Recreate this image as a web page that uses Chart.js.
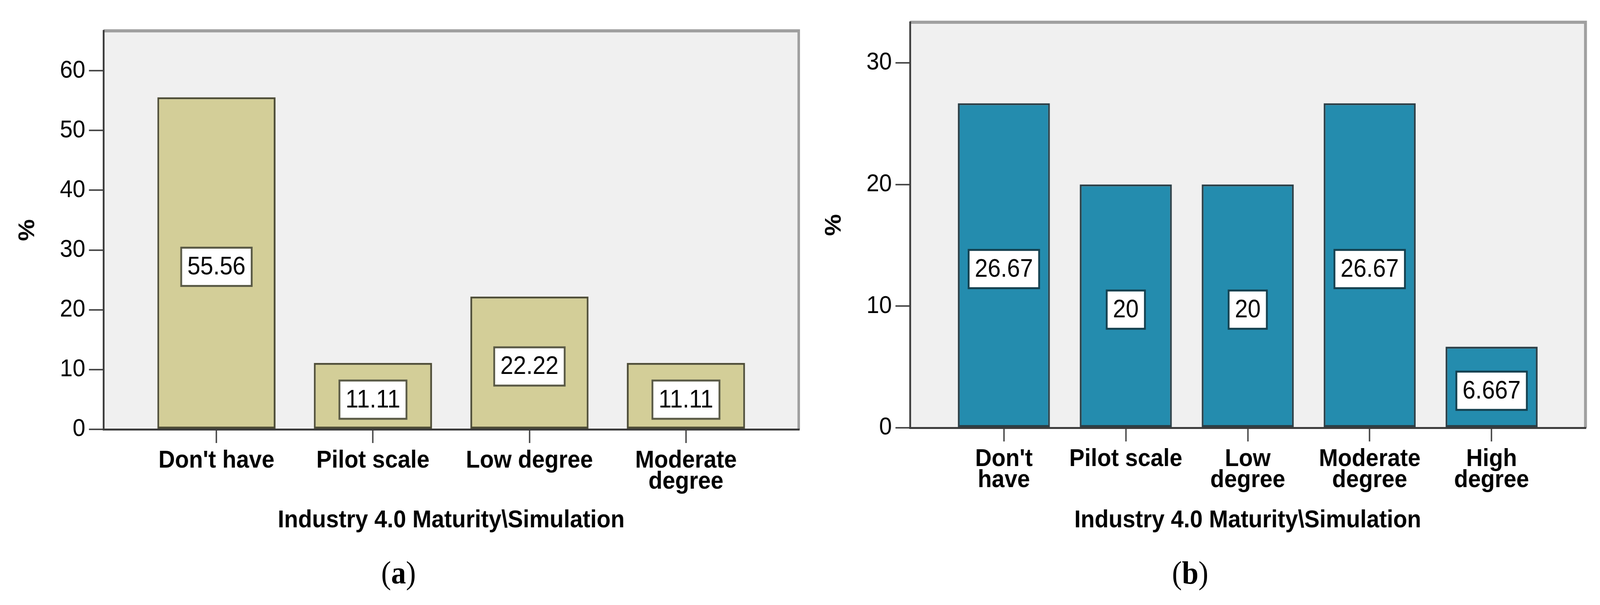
<!DOCTYPE html>
<html>
<head>
<meta charset="utf-8">
<script src="https://cdn.jsdelivr.net/npm/chart.js@4.4.1/dist/chart.umd.min.js"></script>
<style>
  html, body { margin: 0; padding: 0; background: #fff; overflow: hidden; }
  #page { width: 4408px; height: 1550px; position: relative; transform-origin: 0 0; }
  .panel { position: absolute; top: 0; width: 2204px; height: 1550px; }
  .caption {
    position: absolute;
    top: 1418px;
    line-height: 100px;
    font-family: "Liberation Serif", "Times New Roman", serif;
    font-size: 82px;
    color: #000;
    transform: translateX(-50%);
  }
</style>
</head>
<body>
<div id="page">
  <div class="panel" style="left:0"><canvas id="chartA"></canvas></div>
  <div class="panel" style="left:2204px"><canvas id="chartB"></canvas></div>
  <div class="caption" style="left:1098px">(<b>a</b>)</div>
  <div class="caption" style="left:3279px">(<b>b</b>)</div>
</div>
<script>
// panel (a)
const categoriesA = [["Don't have"], ["Pilot scale"], ["Low degree"], ["Moderate", "degree"]];
const valuesA = [55.56, 11.11, 22.22, 11.11];
const yTicksA = [0, 10, 20, 30, 40, 50, 60];
const yMaxA = 66.67;

// panel (b)
const categoriesB = [["Don't", "have"], ["Pilot scale"], ["Low", "degree"], ["Moderate", "degree"], ["High", "degree"]];
const valuesB = [26.67, 20, 20, 26.67, 6.667];
const yTicksB = [0, 10, 20, 30];
const yMaxB = 33.33;

const xTitle = "Industry 4.0 Maturity\\Simulation";
const yTitle = "%";

// the figure is laid out at 4408x1550; squeeze it into the viewport if that is smaller
const fitX = Math.min(1, window.innerWidth / 4408);
const fitY = Math.min(1, window.innerHeight / 1550);
document.getElementById("page").style.transform = `scale(${fitX}, ${fitY})`;

Chart.defaults.font.family = "'Liberation Sans', Arial, sans-serif";
Chart.defaults.color = "#000";

// grey plot background plus the light top/right edges of the frame
const framePlugin = {
  id: "frame",
  beforeDraw(chart) {
    const { ctx, chartArea: a } = chart;
    ctx.save();
    ctx.fillStyle = "#f0f0f0";
    ctx.fillRect(a.left, a.top, a.right - a.left, a.bottom - a.top);
    ctx.strokeStyle = "#a0a0a0";
    ctx.lineWidth = 8;
    ctx.beginPath();
    ctx.moveTo(a.left, a.top);
    ctx.lineTo(a.right, a.top);
    ctx.lineTo(a.right, a.bottom);
    ctx.stroke();
    ctx.restore();
  }
};

// white value boxes in the middle of each bar
const valueBoxPlugin = {
  id: "valueBox",
  afterDatasetsDraw(chart, args, opts) {
    const { ctx } = chart;
    const meta = chart.getDatasetMeta(0);
    const points = chart.data.datasets[0].data;
    ctx.save();
    ctx.font = "64px 'Liberation Sans', Arial, sans-serif";
    ctx.textAlign = "center";
    ctx.textBaseline = "middle";
    meta.data.forEach((bar, i) => {
      const text = String(Number(points[i].y.toPrecision(4)));
      const cy = (bar.y + bar.base) / 2 + 10;
      const w = ctx.measureText(text).width + 34;
      const h = 98;
      ctx.fillStyle = "#fff";
      ctx.fillRect(bar.x - w / 2, cy - h / 2, w, h);
      ctx.lineWidth = 5;
      ctx.strokeStyle = opts.border || "#444";
      ctx.strokeRect(bar.x - w / 2, cy - h / 2, w, h);
      ctx.fillStyle = "#000";
      ctx.fillText(text, bar.x, cy + 2);
    });
    ctx.restore();
  }
};

function makeChart(canvasId, cfg) {
  const canvas = document.getElementById(canvasId);
  return new Chart(canvas, {
    type: "bar",
    data: {
      datasets: [{
        data: cfg.values.map((v, i) => ({ x: i, y: v })),
        backgroundColor: cfg.fill,
        borderColor: cfg.border,
        borderWidth: 5,
        borderSkipped: false,
        categoryPercentage: 1,
        barPercentage: 0.755
      }]
    },
    plugins: [framePlugin, valueBoxPlugin],
    options: {
      animation: false,
      responsive: true,
      maintainAspectRatio: false,
      layout: { padding: cfg.padding },
      plugins: {
        legend: { display: false },
        tooltip: { enabled: false },
        valueBox: { border: cfg.boxBorder }
      },
      scales: {
        x: {
          type: "linear",
          offset: false,
          min: -cfg.edge,
          max: cfg.categories.length - 1 + cfg.edge,
          afterBuildTicks: (axis) => { axis.ticks = cfg.categories.map((_, i) => ({ value: i })); },
          afterFit: (axis) => { axis.height = cfg.xHeight; },
          grid: { offset: false, drawOnChartArea: false, drawTicks: true, tickLength: 35, color: "#4a4a4a", lineWidth: 4 },
          border: { color: "#3c3c3c", width: 5 },
          ticks: {
            autoSkip: false,
            maxRotation: 0,
            padding: 19,
            color: "#000",
            font: { size: 63, weight: "bold", lineHeight: 0.85 },
            callback: (value, index) => cfg.categories[index]
          },
          title: {
            display: true,
            text: xTitle,
            color: "#000",
            font: { size: 63, weight: "bold" },
            padding: { bottom: 179 }
          }
        },
        y: {
          min: 0,
          max: cfg.yMax,
          afterBuildTicks: (axis) => { axis.ticks = cfg.yTicks.map((v) => ({ value: v })); },
          afterFit: (axis) => { axis.width = cfg.yWidth; },
          grid: { drawOnChartArea: false, drawTicks: true, tickLength: 40, color: "#4a4a4a", lineWidth: 4 },
          border: { color: "#3c3c3c", width: 5 },
          ticks: { padding: 10, color: "#000", font: { size: 63 } },
          title: {
            display: true,
            text: yTitle,
            color: "#000",
            font: { size: 63, weight: "bold" },
            padding: { top: cfg.yTitlePad }
          }
        }
      }
    }
  });
}

makeChart("chartA", {
  categories: categoriesA,
  values: valuesA,
  yTicks: yTicksA,
  yMax: yMaxA,
  edge: 0.722,
  fill: "#d3ce98",
  border: "#4e4d37",
  boxBorder: "#5a5a46",
  padding: { left: 0, top: 79, right: 3, bottom: 0 },
  yWidth: 285,
  xHeight: 450,
  yTitlePad: 39
});

makeChart("chartB", {
  categories: categoriesB,
  values: valuesB,
  yTicks: yTicksB,
  yMax: yMaxB,
  edge: 0.77,
  fill: "#248cae",
  border: "#2b3f47",
  boxBorder: "#14404f",
  padding: { left: 0, top: 57, right: 40, bottom: 0 },
  yWidth: 303,
  xHeight: 454,
  yTitlePad: 57
});
</script>
</body>
</html>
